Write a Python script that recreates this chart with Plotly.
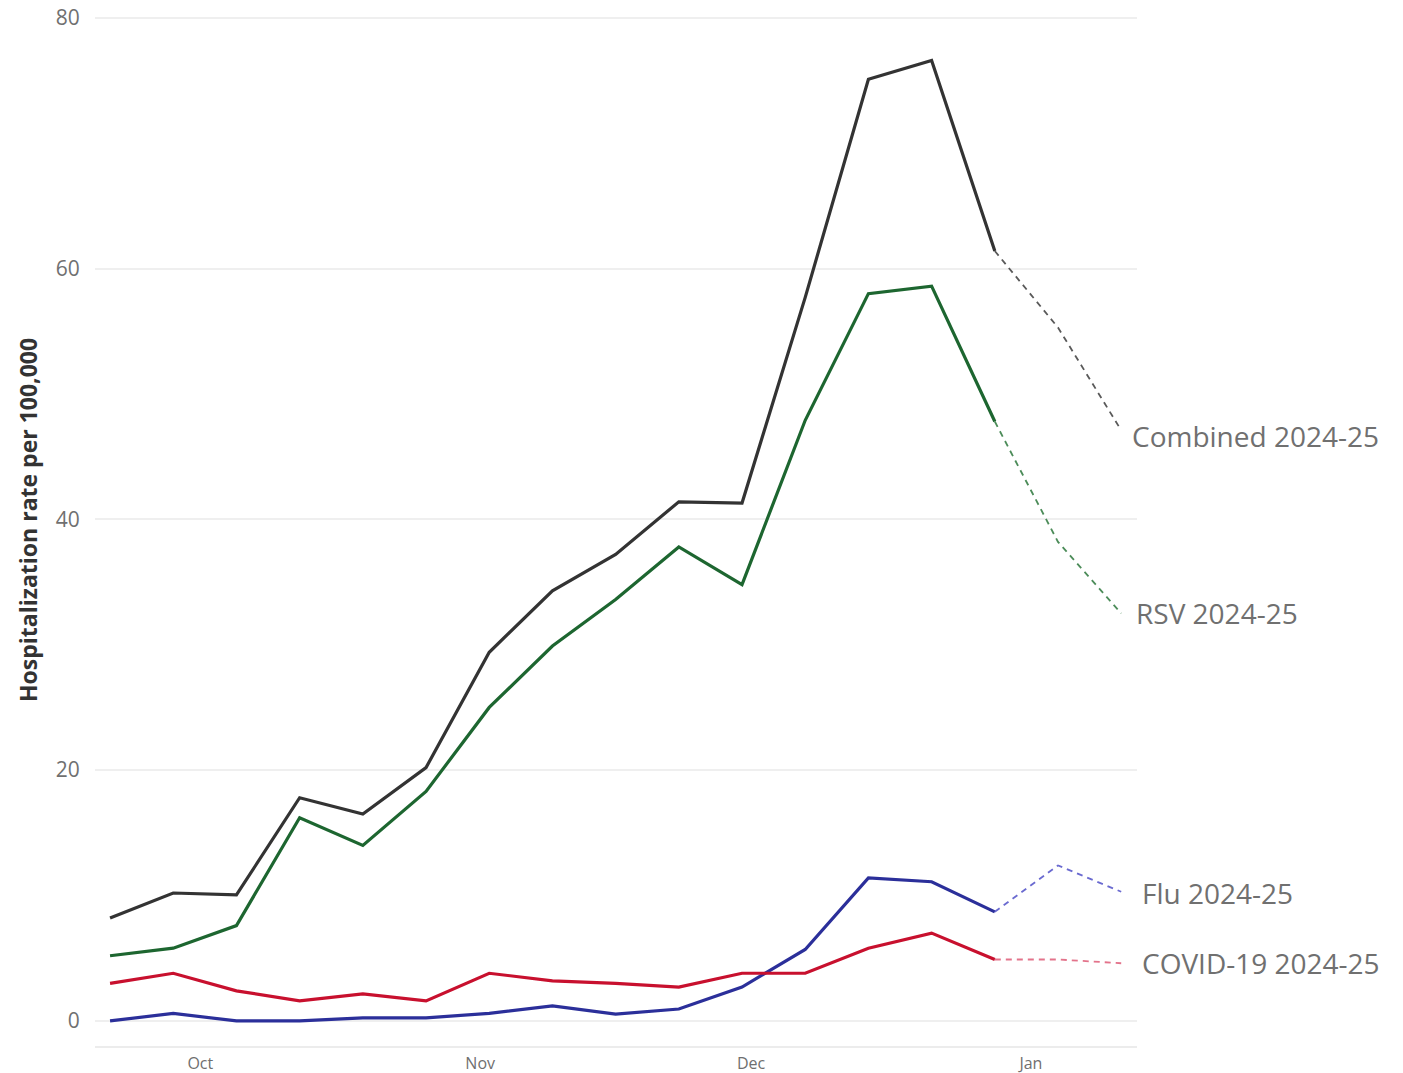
import plotly.graph_objects as go
import pandas as pd

weeks = pd.date_range("2024-09-21", periods=17, freq="7D")
combined = [8.2, 10.2, 10.05, 17.8, 16.5, 20.2, 29.4, 34.3, 37.2, 41.4, 41.3, 57.7, 75.1, 76.6, 61.4, 55.3, 47.1]
rsv = [5.2, 5.8, 7.6, 16.2, 14.0, 18.3, 25.0, 29.9, 33.6, 37.8, 34.8, 47.9, 58.0, 58.6, 47.8, 38.2, 32.5]
flu = [0.0, 0.6, 0.0, 0.0, 0.25, 0.25, 0.6, 1.2, 0.55, 0.95, 2.7, 5.7, 11.4, 11.1, 8.7, 12.4, 10.3]
covid = [3.0, 3.8, 2.4, 1.6, 2.15, 1.6, 3.8, 3.2, 3.0, 2.7, 3.8, 3.8, 5.8, 7.0, 4.9, 4.9, 4.6]
n_final = 15  # number of finalized weeks (rest are preliminary, dashed)

series = [
    ("Combined 2024-25", combined, "#333333", "rgba(60,60,60,0.85)", 9, -6),
    ("RSV 2024-25", rsv, "#1d6630", "rgba(45,120,60,0.85)", 13, 0),
    ("Flu 2024-25", flu, "#2b2f9a", "rgba(80,80,200,0.85)", 19, -1),
    ("COVID-19 2024-25", covid, "#c8102e", "rgba(220,80,110,0.8)", 19, 0),
]

fig = go.Figure()
for name, vals, col, dcol, xs, ys in series:
    fig.add_trace(go.Scatter(x=weeks[:n_final], y=vals[:n_final], mode="lines",
                             line=dict(color=col, width=3.2), name=name, showlegend=False,
                             hoverinfo="skip"))
    fig.add_trace(go.Scatter(x=weeks[n_final - 1:], y=vals[n_final - 1:], mode="lines",
                             line=dict(color=dcol, width=1.8, dash="6px,5px"), name=name,
                             showlegend=False, hoverinfo="skip"))
    fig.add_annotation(x=weeks[-1], y=vals[-1], text=name, xanchor="left", yanchor="middle",
                       xshift=xs, yshift=ys, showarrow=False,
                       font=dict(size=28, color="#707070"))

fig.add_annotation(xref="paper", yref="paper", x=(28 - 95) / 1042, y=(1046 - 520) / 1032,
                   text="<b>Hospitalization rate per 100,000</b>", textangle=-90,
                   showarrow=False, xanchor="center", yanchor="middle",
                   font=dict(size=23, color="#333333"))

fig.update_layout(
    width=1395, height=1065,
    margin=dict(l=87, r=266, t=6, b=27),
    plot_bgcolor="white", paper_bgcolor="white",
    font=dict(family="Open Sans, Segoe UI, sans-serif"),
    xaxis=dict(
        type="date", automargin=False,
        range=["2024-09-19 08:00", "2025-01-12 18:00"],
        tickvals=["2024-10-01", "2024-11-01", "2024-12-01", "2025-01-01"],
        tickformat="%b",
        showgrid=False, zeroline=False,
        showline=True, linecolor="#ececec", linewidth=2,
        tickfont=dict(size=16, color="#6f6f6f"),
        ticks="outside", ticklen=2, tickcolor="rgba(0,0,0,0)",
        ticklabeloverflow="allow",
    ),
    yaxis=dict(
        range=[-2, 80.3], automargin=False,
        tickvals=[0, 20, 40, 60, 80],
        showgrid=True, gridcolor="#efefef", gridwidth=2,
        zeroline=False,
        tickfont=dict(size=21, color="#707070"),
        ticks="outside", ticklen=10, tickcolor="rgba(0,0,0,0)",
        ticklabeloverflow="allow",
    ),
)

fig.write_html("out.html")
